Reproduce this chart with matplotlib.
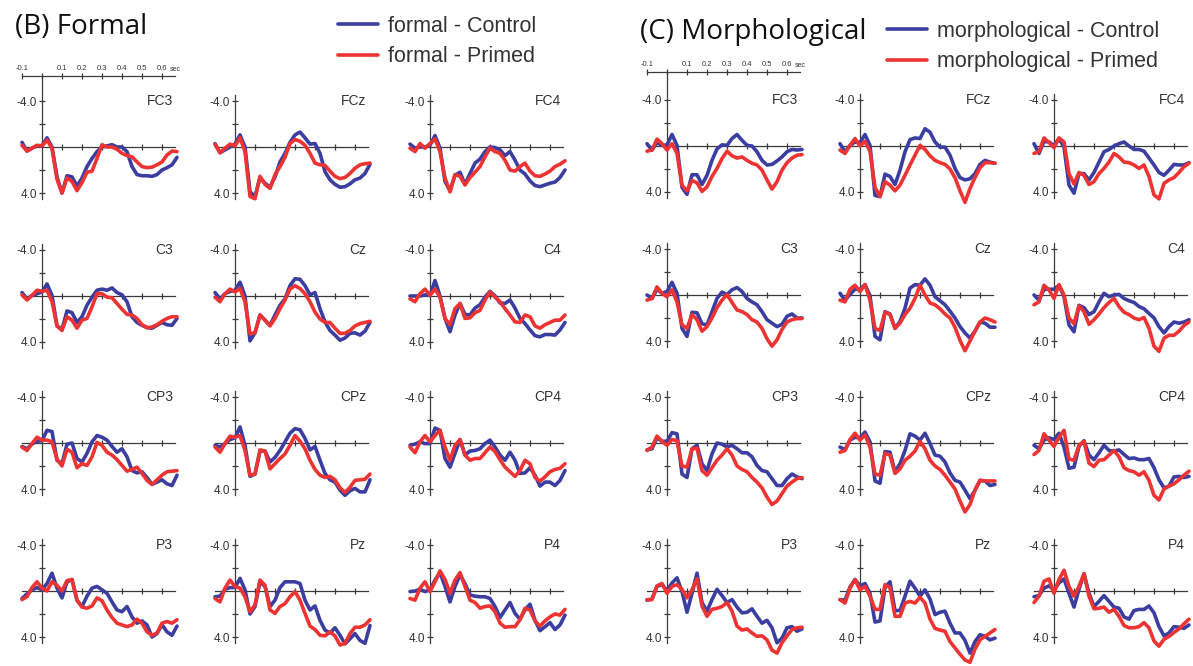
import numpy as np
import matplotlib.pyplot as plt

# ERP grand averages, sampled every 25 ms from -100 to 675 ms (microvolts, positive plotted down)
times = np.round(np.arange(-0.1, 0.676, 0.025), 3)

# (B) formal condition
b_fc3_ctrl = [-0.4, 0.35, 0.1, -0.1, -0.1, -0.8, 0.0, 2.6, 4.0, 2.5, 2.6, 3.4, 2.7, 1.7, 1.0, 0.4, 0.0, -0.1, -0.2, 0.0, 0.0, 0.4, 1.7, 2.4, 2.5, 2.5, 2.55, 2.4, 2.0, 1.8, 1.55, 0.9]
b_fc3_prim = [-0.15, 0.35, 0.1, -0.15, -0.1, -0.6, 0.1, 2.8, 4.0, 2.7, 3.0, 3.8, 3.1, 2.2, 2.1, 1.0, -0.2, 0.0, 0.0, 0.2, 0.55, 0.75, 0.85, 1.3, 1.7, 1.8, 1.75, 1.55, 1.3, 0.7, 0.35, 0.4]
b_fcz_ctrl = [-0.3, 0.5, 0.25, 0.0, -0.25, -1.05, 0.0, 3.9, 4.3, 2.65, 3.15, 3.5, 2.6, 1.3, 0.55, -0.4, -1.05, -1.3, -0.8, -0.25, -0.3, 0.55, 2.15, 2.85, 3.25, 3.5, 3.45, 3.2, 2.85, 2.7, 2.3, 1.5]
b_fcz_prim = [-0.25, 0.5, 0.1, -0.25, -0.1, -0.8, 0.4, 4.3, 4.5, 2.55, 3.25, 3.6, 2.4, 1.7, 0.9, -0.3, -0.65, -0.5, -0.15, 0.55, 1.4, 1.55, 1.6, 2.1, 2.55, 2.75, 2.65, 2.3, 1.85, 1.55, 1.45, 1.4]
b_fc4_ctrl = [-0.25, 0.1, 0.0, 0.0, -0.15, -1.0, 0.1, 3.0, 3.8, 2.45, 2.2, 3.25, 2.3, 1.4, 1.05, 0.4, 0.0, 0.05, 0.25, 0.75, 0.4, 1.15, 2.0, 2.35, 2.95, 3.35, 3.45, 3.3, 3.15, 3.05, 2.65, 2.0]
b_fc4_prim = [0.1, 0.4, -0.3, 0.1, -0.3, -0.7, 0.4, 2.7, 3.9, 2.4, 2.55, 3.3, 2.65, 2.2, 1.7, 0.85, 0.1, 0.4, 0.55, 1.15, 2.0, 2.1, 1.7, 1.4, 2.1, 2.5, 2.55, 2.35, 2.1, 1.7, 1.5, 1.2]
b_c3_ctrl = [-0.3, 0.25, -0.05, -0.2, -0.35, -1.05, -0.05, 2.6, 2.9, 1.3, 1.45, 2.3, 1.8, 0.8, 0.1, -0.5, -0.6, -0.5, -0.7, -0.3, -0.1, 0.5, 1.8, 2.3, 2.55, 2.75, 2.8, 2.55, 2.3, 2.5, 2.55, 1.95]
b_c3_prim = [-0.1, 0.35, -0.05, -0.5, -0.4, -0.5, 0.5, 2.6, 3.0, 1.8, 2.1, 2.8, 2.1, 1.95, 0.95, -0.2, -0.2, 0.1, 0.15, 0.65, 1.15, 1.6, 1.65, 1.95, 2.5, 2.75, 2.7, 2.5, 2.2, 1.95, 1.8, 1.8]
b_cz_ctrl = [-0.3, 0.25, -0.2, -0.4, -0.5, -1.2, 0.0, 3.9, 3.2, 1.65, 2.1, 2.55, 1.65, 0.8, 0.25, -0.9, -1.5, -1.45, -0.9, -0.1, -0.3, 1.1, 2.25, 3.0, 3.4, 3.85, 3.65, 3.25, 3.2, 3.4, 3.05, 2.3]
b_cz_prim = [0.1, 0.5, -0.2, -0.6, -0.35, -0.65, 0.5, 3.3, 3.2, 1.65, 2.1, 2.6, 1.95, 1.1, 0.35, -0.6, -0.9, -0.65, -0.2, 0.5, 1.4, 2.0, 2.3, 2.3, 2.8, 3.25, 3.25, 3.0, 2.6, 2.4, 2.3, 2.2]
b_c4_ctrl = [0.0, 0.0, 0.0, -0.1, -0.05, -1.35, 0.0, 1.95, 3.1, 1.65, 0.65, 1.6, 1.65, 1.05, 0.75, 0.1, -0.4, 0.0, 0.6, 0.65, 0.35, 1.05, 1.95, 2.4, 2.95, 3.45, 3.55, 3.35, 3.35, 3.4, 2.95, 2.3]
b_c4_prim = [0.25, 0.5, -0.2, -0.6, -0.05, -0.6, 0.1, 1.95, 2.5, 1.1, 0.65, 1.95, 1.9, 1.45, 1.25, 0.35, -0.35, 0.1, 0.5, 1.1, 1.65, 2.25, 2.3, 1.65, 1.8, 2.6, 2.8, 2.5, 2.3, 2.1, 2.1, 1.65]
b_cp3_ctrl = [0.3, 0.5, 0.1, -0.15, -0.2, -1.1, -1.0, 1.5, 1.8, 0.1, 0.0, 1.35, 1.65, 0.9, -0.1, -0.65, -0.5, -0.25, 0.3, 0.8, 0.5, 1.2, 2.4, 2.6, 2.5, 3.0, 3.6, 3.4, 3.2, 3.55, 3.7, 2.8]
b_cp3_prim = [0.35, 0.65, 0.05, -0.5, -0.25, -0.25, -0.1, 1.4, 2.0, 0.55, 0.8, 2.15, 1.8, 1.95, 1.2, -0.05, 0.2, 0.8, 1.05, 1.45, 1.95, 2.45, 2.3, 2.1, 2.65, 3.25, 3.6, 3.2, 2.8, 2.5, 2.45, 2.4]
b_cpz_ctrl = [0.2, 0.35, 0.05, -0.3, -0.45, -1.4, 0.2, 2.9, 2.7, 0.7, 0.7, 1.65, 1.25, 0.65, -0.1, -0.85, -1.25, -1.15, -0.4, 0.6, 0.3, 1.5, 2.65, 3.2, 3.4, 4.1, 4.55, 4.15, 3.95, 4.25, 4.25, 3.2]
b_cpz_prim = [0.35, 0.8, 0.05, -0.6, -0.5, -0.65, 0.65, 2.8, 2.7, 0.6, 0.7, 2.25, 1.8, 1.35, 0.95, 0.2, -0.65, -0.15, 0.5, 1.5, 2.3, 2.8, 3.0, 2.9, 3.2, 3.9, 4.3, 3.85, 3.25, 3.2, 3.15, 2.7]
b_cp4_ctrl = [0.2, 0.1, -0.1, 0.05, 0.05, -1.3, -1.1, 1.35, 2.1, 0.9, -0.3, 1.05, 0.7, 0.65, 0.5, 0.05, -0.25, 0.35, 1.05, 1.5, 0.8, 1.5, 2.65, 2.6, 2.15, 2.8, 3.75, 3.4, 3.4, 3.7, 3.25, 2.4]
b_cp4_prim = [0.35, 0.85, -0.1, -0.65, -0.1, -0.65, -1.1, 0.35, 1.5, 0.2, -0.3, 1.05, 1.5, 1.35, 1.35, 0.85, 0.35, 0.75, 1.45, 2.1, 2.5, 2.9, 2.4, 1.5, 1.8, 3.0, 3.3, 2.95, 2.5, 2.3, 2.2, 1.8]
b_p3_ctrl = [0.65, 0.25, -0.1, -0.3, -0.1, -0.65, -1.55, -0.25, 0.6, -0.8, -1.0, 0.8, 1.35, 0.45, -0.25, -0.4, -0.1, 0.2, 0.95, 1.65, 1.8, 1.35, 2.25, 2.8, 2.6, 2.95, 4.0, 3.7, 2.95, 3.55, 3.85, 3.05]
b_p3_prim = [0.75, 0.5, -0.3, -0.8, -0.25, 0.0, -0.8, -0.5, 0.0, -0.9, -1.0, 0.8, 1.4, 1.5, 1.3, 0.6, 0.85, 1.65, 2.3, 2.8, 2.95, 3.1, 2.95, 2.45, 2.8, 3.55, 3.85, 3.65, 2.8, 2.65, 2.8, 2.5]
b_pz_ctrl = [0.5, 0.45, -0.15, -0.3, -0.3, -1.1, -0.1, 2.0, 1.35, -0.8, -0.4, 1.35, 0.8, -0.3, -0.8, -0.8, -0.8, -0.65, 0.8, 1.65, 1.3, 2.55, 3.4, 3.65, 3.2, 3.85, 4.6, 4.15, 3.7, 4.3, 4.55, 3.0]
b_pz_prim = [0.65, 0.95, -0.25, -0.95, -0.4, -0.25, 0.5, 1.8, 1.2, -0.95, -0.5, 1.65, 1.95, 1.35, 1.1, 0.5, 0.05, 0.8, 1.95, 3.05, 3.35, 3.85, 3.9, 3.55, 3.9, 4.7, 4.55, 3.7, 3.15, 3.15, 2.95, 2.5]
b_p4_ctrl = [0.05, 0.0, -0.15, 0.05, -0.1, -0.95, -1.6, -0.4, 0.95, -0.4, -1.4, -0.65, 0.35, 0.45, 0.5, 0.5, 0.65, 1.35, 2.3, 1.65, 1.0, 1.95, 2.45, 1.65, 1.15, 2.55, 3.45, 3.1, 2.75, 3.35, 2.95, 2.1]
b_p4_prim = [0.65, 0.8, -0.25, -0.8, 0.05, -0.8, -1.75, -1.0, 0.2, -0.95, -1.6, -0.4, 0.8, 1.0, 1.5, 1.35, 1.3, 1.8, 2.8, 3.15, 3.1, 3.1, 2.5, 1.5, 1.65, 2.6, 3.05, 2.6, 2.25, 2.0, 2.1, 1.6]

# (C) morphological condition
c_fc3_ctrl = [-0.2, 0.35, -0.3, -0.05, -0.1, -1.0, -0.05, 3.6, 4.2, 2.5, 2.5, 3.35, 2.55, 1.25, 0.25, -0.1, -0.05, -0.65, -1.0, -0.5, -0.05, 0.0, 0.5, 1.25, 1.65, 1.6, 1.3, 0.95, 0.5, 0.3, 0.35, 0.3]
c_fc3_prim = [0.45, 0.35, -0.6, -0.2, 0.35, -0.2, 0.65, 3.4, 3.9, 3.0, 3.2, 3.95, 3.55, 2.65, 1.95, 1.1, 0.45, 0.85, 1.05, 0.95, 1.25, 1.5, 1.65, 2.1, 2.95, 3.75, 3.1, 2.1, 1.45, 1.05, 0.8, 0.75]
c_fcz_ctrl = [-0.2, 0.5, -0.05, -0.35, -0.3, -1.0, -0.05, 4.3, 4.4, 2.45, 2.65, 3.35, 2.1, 0.5, -0.55, -0.7, -0.65, -1.5, -1.2, -0.35, 0.1, 0.1, 0.8, 1.95, 2.75, 2.95, 2.85, 2.4, 1.6, 1.25, 1.4, 1.5]
c_fcz_prim = [0.35, 0.65, -0.05, -0.65, 0.0, -0.4, 0.45, 3.6, 4.4, 3.1, 3.4, 3.9, 3.4, 2.55, 1.65, 0.8, -0.05, 0.3, 0.85, 1.25, 1.45, 1.6, 2.0, 2.75, 3.9, 4.9, 3.7, 2.75, 1.9, 1.45, 1.45, 1.5]
c_fc4_ctrl = [-0.2, 0.65, -0.4, -0.35, -0.05, -0.65, 0.1, 3.4, 4.1, 2.4, 2.4, 2.95, 2.3, 1.4, 0.5, 0.3, 0.0, -0.2, -0.35, 0.0, 0.3, 0.3, 0.45, 1.05, 1.65, 2.3, 2.55, 2.1, 1.6, 1.65, 1.65, 1.45]
c_fc4_prim = [0.65, 0.5, -0.7, -0.3, 0.15, -0.7, -0.35, 2.4, 3.3, 2.3, 2.55, 3.35, 3.1, 2.4, 1.95, 1.4, 0.65, 0.95, 1.4, 1.45, 1.65, 1.95, 1.65, 2.65, 4.25, 4.6, 3.25, 2.95, 2.75, 2.3, 1.8, 1.5]
c_c3_ctrl = [0.0, 0.3, -0.5, -0.15, -0.3, -1.1, -0.15, 2.9, 3.6, 1.5, 1.55, 2.5, 2.6, 1.45, 0.3, -0.25, -0.05, -0.45, -0.65, -0.3, 0.3, 0.6, 0.85, 1.45, 2.15, 2.45, 2.75, 2.55, 1.85, 1.65, 2.0, 2.0]
c_c3_prim = [0.45, 0.3, -0.7, -0.15, 0.15, -0.45, 0.6, 2.6, 2.9, 1.7, 2.15, 3.15, 2.75, 2.0, 1.1, 0.45, -0.05, 0.65, 1.3, 1.45, 1.7, 2.15, 2.35, 2.9, 3.8, 4.45, 3.9, 3.0, 2.35, 2.15, 2.05, 2.05]
c_cz_ctrl = [-0.15, 0.45, -0.05, -0.5, -0.5, -0.9, 0.05, 3.6, 3.9, 1.45, 1.65, 2.9, 2.3, 1.15, -0.6, -0.9, -0.85, -1.4, -0.85, 0.15, 0.5, 0.85, 1.4, 2.0, 2.75, 3.3, 3.75, 3.15, 2.35, 2.45, 2.8, 2.8]
c_cz_prim = [0.45, 0.6, -0.5, -0.85, -0.3, -0.9, 0.45, 2.9, 3.1, 1.5, 1.7, 2.9, 2.45, 1.7, 1.15, 0.3, -0.85, 0.0, 0.7, 0.85, 1.2, 1.65, 2.0, 2.8, 3.95, 4.85, 4.0, 3.15, 2.35, 2.0, 2.15, 2.35]
c_c4_ctrl = [0.0, 0.45, -0.5, -0.5, -0.5, -0.85, 0.15, 2.6, 3.2, 0.9, 1.1, 1.7, 1.45, 0.6, -0.15, 0.15, 0.0, -0.05, 0.3, 0.5, 0.65, 1.0, 1.2, 1.6, 2.0, 2.75, 3.3, 2.75, 2.35, 2.45, 2.35, 2.15]
c_c4_prim = [0.85, 0.6, -0.85, -0.45, 0.3, -0.9, 0.0, 2.0, 2.5, 0.95, 1.45, 2.55, 2.15, 1.65, 1.1, 0.65, 0.3, 1.0, 1.5, 1.7, 2.0, 2.15, 1.95, 2.9, 4.45, 4.9, 3.75, 3.5, 3.5, 3.15, 2.65, 2.35]
c_cp3_ctrl = [0.6, 0.5, -0.45, -0.15, -0.15, -0.9, -0.8, 2.7, 3.0, 0.5, 0.2, 1.8, 2.4, 0.95, 0.0, 0.1, 0.35, 0.2, 0.5, 0.85, 0.85, 1.2, 1.95, 2.4, 2.5, 3.1, 3.7, 3.7, 3.1, 2.7, 2.95, 3.1]
c_cp3_prim = [0.65, 0.35, -0.6, -0.15, 0.2, -0.3, -0.2, 2.0, 2.1, 0.5, 0.45, 2.4, 2.8, 2.15, 1.5, 1.05, 0.5, 1.05, 2.0, 2.3, 2.5, 3.0, 3.4, 3.9, 4.7, 5.35, 5.05, 4.4, 3.75, 3.4, 3.1, 3.0]
c_cpz_ctrl = [0.35, 0.6, -0.25, -0.5, -0.45, -0.95, -0.1, 3.3, 3.5, 0.75, 0.8, 2.5, 1.8, 0.65, -0.8, -0.6, -0.25, -0.85, 0.05, 1.05, 1.15, 1.65, 2.6, 3.25, 3.4, 4.1, 4.85, 4.1, 3.25, 3.3, 3.7, 3.6]
c_cpz_prim = [0.8, 0.65, -0.3, -0.85, -0.25, -0.7, 0.35, 2.7, 2.8, 0.9, 1.05, 2.65, 2.25, 1.5, 1.15, 0.7, -0.15, 0.5, 1.5, 2.0, 2.3, 2.8, 3.4, 4.0, 5.05, 6.0, 5.35, 4.1, 3.25, 3.3, 3.3, 3.3]
c_cp4_ctrl = [0.2, 0.5, -0.25, -0.45, -0.3, -0.85, 0.35, 2.2, 2.1, 0.3, -0.2, 1.05, 1.45, 0.85, 0.2, 0.65, 0.7, 0.6, 1.0, 1.35, 1.3, 1.45, 1.45, 1.35, 2.15, 3.2, 3.9, 3.75, 2.95, 2.9, 3.0, 2.9]
c_cp4_prim = [1.0, 0.65, -0.8, -0.25, 0.3, -0.5, -1.1, 1.4, 1.5, 0.2, -0.15, 1.75, 2.05, 1.5, 1.45, 1.05, 0.65, 1.2, 2.15, 2.4, 2.5, 2.8, 2.5, 3.25, 4.55, 4.95, 4.0, 3.75, 3.55, 3.2, 2.8, 2.45]
c_p3_ctrl = [0.8, 0.7, -0.4, -0.55, -0.05, -0.7, -1.15, 0.05, 1.85, 0.2, -1.55, 1.0, 1.75, 0.75, -0.15, 0.4, 1.0, 0.75, 1.4, 1.9, 1.85, 1.55, 2.2, 2.8, 2.55, 3.2, 4.5, 4.1, 3.2, 3.1, 3.5, 3.3]
c_p3_prim = [0.75, 0.75, -0.45, -0.65, 0.2, -0.4, -0.55, -0.15, 0.6, -0.1, -1.05, 1.3, 2.2, 1.6, 1.5, 1.35, 1.0, 1.75, 3.05, 3.4, 3.3, 3.65, 3.95, 3.9, 4.25, 5.15, 5.4, 4.5, 3.9, 3.35, 3.2, 3.15]
c_pz_ctrl = [0.75, 0.8, -0.35, -1.0, -0.45, -0.65, 0.2, 2.7, 2.6, -0.3, -0.8, 1.7, 1.7, 0.45, -0.85, -0.25, 0.45, -0.1, 0.7, 2.05, 1.85, 1.75, 2.8, 3.65, 3.65, 4.3, 5.4, 4.4, 3.8, 3.95, 4.25, 4.1]
c_pz_prim = [0.75, 1.05, -0.25, -1.0, -0.1, -0.4, 0.45, 1.6, 1.6, -0.55, -0.3, 2.2, 2.2, 1.05, 0.9, 1.05, 0.55, 1.05, 2.45, 3.25, 3.4, 3.5, 4.4, 4.95, 5.5, 6.0, 6.2, 5.05, 4.25, 3.95, 3.65, 3.35]
c_p4_ctrl = [0.5, 0.4, -0.25, -0.45, -0.1, -0.7, -1.05, 0.2, 1.4, -0.15, -1.5, 0.2, 1.35, 0.9, 0.4, 0.9, 1.4, 1.5, 2.25, 2.45, 1.7, 1.6, 1.6, 1.3, 1.9, 3.1, 3.9, 3.65, 3.1, 3.15, 3.25, 2.95]
c_p4_prim = [1.0, 0.45, -0.85, -1.05, 0.2, -1.0, -1.8, -0.4, 0.45, -0.4, -1.5, 0.45, 1.55, 1.5, 1.4, 1.85, 1.6, 2.2, 3.0, 3.2, 3.2, 3.1, 2.75, 3.2, 4.35, 4.8, 4.2, 3.95, 3.6, 3.3, 2.85, 2.45]

channels = [["FC3", "FCz", "FC4"], ["C3", "Cz", "C4"], ["CP3", "CPz", "CP4"], ["P3", "Pz", "P4"]]
formal = {
    "FC3": (b_fc3_ctrl, b_fc3_prim), "FCz": (b_fcz_ctrl, b_fcz_prim), "FC4": (b_fc4_ctrl, b_fc4_prim),
    "C3": (b_c3_ctrl, b_c3_prim), "Cz": (b_cz_ctrl, b_cz_prim), "C4": (b_c4_ctrl, b_c4_prim),
    "CP3": (b_cp3_ctrl, b_cp3_prim), "CPz": (b_cpz_ctrl, b_cpz_prim), "CP4": (b_cp4_ctrl, b_cp4_prim),
    "P3": (b_p3_ctrl, b_p3_prim), "Pz": (b_pz_ctrl, b_pz_prim), "P4": (b_p4_ctrl, b_p4_prim),
}
morph = {
    "FC3": (c_fc3_ctrl, c_fc3_prim), "FCz": (c_fcz_ctrl, c_fcz_prim), "FC4": (c_fc4_ctrl, c_fc4_prim),
    "C3": (c_c3_ctrl, c_c3_prim), "Cz": (c_cz_ctrl, c_cz_prim), "C4": (c_c4_ctrl, c_c4_prim),
    "CP3": (c_cp3_ctrl, c_cp3_prim), "CPz": (c_cpz_ctrl, c_cpz_prim), "CP4": (c_cp4_ctrl, c_cp4_prim),
    "P3": (c_p3_ctrl, c_p3_prim), "Pz": (c_pz_ctrl, c_pz_prim), "P4": (c_p4_ctrl, c_p4_prim),
}
time_ticks = [-0.1, 0.0, 0.1, 0.2, 0.3, 0.4, 0.5, 0.6]
time_labels = ["-0.1", "", "0.1", "0.2", "0.3", "0.4", "0.5", "0.6"]

W, H = 1193, 666
PX_T = 200.0      # pixels per second
PX_V = 11.5       # pixels per microvolt
T_LO, T_HI = -0.12, 0.70
V_LO, V_HI = -7.0, 7.5
BLUE = "#3b3ea0"
RED = "#ee3333"
AXC = "#3a3a3a"
TXT = "#333333"
plt.rcParams["font.family"] = ["Liberation Sans", "DejaVu Sans"]


def px_axes(fig, x0, y_top, w, h):
    return fig.add_axes([x0 / W, 1 - (y_top + h) / H, w / W, h / H])


def erp_panel(fig, ax_x, zero_y, name, ctrl, prim, top_v=-4.5):
    ax = px_axes(fig, ax_x + T_LO * PX_T, zero_y + V_LO * PX_V,
                 (T_HI - T_LO) * PX_T, (V_HI - V_LO) * PX_V)
    ax.set_xlim(T_LO, T_HI)
    ax.set_ylim(V_HI, V_LO)
    ax.patch.set_visible(False)
    l1, = ax.plot(times, ctrl, color=BLUE, lw=2.6, solid_joinstyle="round",
                  solid_capstyle="round", clip_on=False, zorder=3)
    l2, = ax.plot(times, prim, color=RED, lw=2.6, solid_joinstyle="round",
                  solid_capstyle="round", clip_on=False, zorder=4)
    for s in ["top", "right"]:
        ax.spines[s].set_visible(False)
    ax.spines["left"].set_position(("data", 0))
    ax.spines["bottom"].set_position(("data", 0))
    ax.spines["left"].set_bounds(top_v, 4.5)
    ax.spines["bottom"].set_bounds(-0.1, 0.665)
    for s in ["left", "bottom"]:
        ax.spines[s].set_color(AXC)
        ax.spines[s].set_linewidth(0.9)
    ax.set_yticks([-4, -2, 2, 4])
    ax.set_yticklabels(["-4.0", "", "", "4.0"])
    ax.set_xticks(time_ticks[2:])
    ax.set_xticklabels([])
    ax.tick_params(direction="inout", length=5, width=0.9, color=AXC,
                   labelsize=8.5, labelcolor=TXT, pad=1)
    ax.text(0.655, -4.0, name, ha="right", va="center", fontsize=10, color=TXT)
    return l1, l2


def time_axis(fig, ax_x, y):
    tax = px_axes(fig, ax_x + T_LO * PX_T, y, (T_HI - T_LO) * PX_T, 10)
    tax.set_xlim(T_LO, T_HI)
    tax.patch.set_visible(False)
    for s in ["left", "right", "bottom"]:
        tax.spines[s].set_visible(False)
    tax.spines["top"].set_bounds(-0.1, 0.665)
    tax.spines["top"].set_color(AXC)
    tax.spines["top"].set_linewidth(0.9)
    tax.set_yticks([])
    tax.xaxis.set_ticks_position("top")
    tax.set_xticks(time_ticks)
    tax.set_xticklabels(time_labels)
    tax.tick_params(direction="inout", length=5, width=0.9, color=AXC,
                    labelsize=5.5, labelcolor=TXT, pad=0.5)
    tax.text(0.64, 1.3, "sec", transform=tax.get_xaxis_transform(),
             fontsize=5, color=TXT, va="bottom", ha="left")


fig = plt.figure(figsize=(W / 100, H / 100), dpi=100)

groups = [
    # data, title, title pos, axis x positions, row zeros, time axis y, legend pos, legend names
    (formal, "(B) Formal", (15, 27), [42, 235, 430], [147, 296, 443, 591], 76, (338, 16),
     ["formal - Control", "formal - Primed"]),
    (morph, "(C) Morphological", (640, 32), [667, 860, 1054], [146, 295, 443, 591], 72, (887, 21),
     ["morphological - Control", "morphological - Primed"]),
]

for data, title, tpos, xs, zs, top_y, lpos, names in groups:
    handles = None
    for r, row in enumerate(channels):
        for c, ch in enumerate(row):
            top_v = -4.5
            if r == 0 and c == 0:
                top_v = (top_y - zs[0]) / PX_V
                time_axis(fig, xs[0], top_y)
            h = erp_panel(fig, xs[c], zs[r], ch, data[ch][0], data[ch][1], top_v)
            if handles is None:
                handles = h
    fig.text(tpos[0] / W, 1 - tpos[1] / H, title, fontsize=20, va="center", ha="left",
             family=["Open Sans", "DejaVu Sans"], color="#111111")
    fig.legend(handles, names, loc="upper left", bbox_to_anchor=(lpos[0] / W, 1 - lpos[1] / H),
               frameon=False, fontsize=15.5, handlelength=1.85, handletextpad=0.45,
               labelspacing=0.42, borderpad=0, borderaxespad=0, labelcolor=TXT)

fig.savefig("out.png", dpi=100)
